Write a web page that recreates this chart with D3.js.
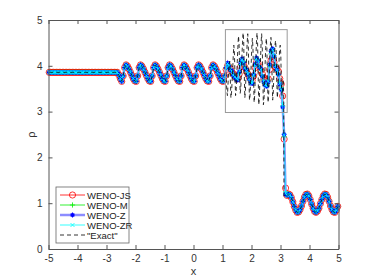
<!DOCTYPE html>
<html>
<head>
<meta charset="utf-8">
<script src="https://cdn.jsdelivr.net/npm/d3@7"></script>
<style>
body { margin: 0; background: #fff; }
text { font-family: "Liberation Sans", Arial, sans-serif; }
</style>
</head>
<body>
<div id="viz-container"></div>
<script>
// density on the cell grid, shared part left of the zoom box (x = -4.975 .. 1.075)
var rhoLeft = [
  3.857, 3.857, 3.857, 3.857, 3.857, 3.857, 3.857, 3.857, 3.857, 3.857,
  3.857, 3.857, 3.857, 3.857, 3.857, 3.857, 3.857, 3.857, 3.857, 3.857,
  3.857, 3.857, 3.857, 3.857, 3.857, 3.857, 3.857, 3.857, 3.857, 3.857,
  3.857, 3.857, 3.857, 3.857, 3.857, 3.857, 3.857, 3.857, 3.857, 3.857,
  3.857, 3.857, 3.857, 3.857, 3.857, 3.857, 3.857, 3.857,
  3.80, 3.72,
  3.66, 3.78, 3.96, 4.02, 3.99, 3.93, 3.86, 3.79, 3.72, 3.67,
  3.66, 3.78, 3.96, 4.02, 3.99, 3.93, 3.86, 3.79, 3.72, 3.67,
  3.66, 3.78, 3.96, 4.02, 3.99, 3.93, 3.86, 3.79, 3.72, 3.67,
  3.66, 3.78, 3.96, 4.02, 3.99, 3.93, 3.86, 3.79, 3.72, 3.67,
  3.66, 3.78, 3.96, 4.02, 3.99, 3.93, 3.86, 3.79, 3.72, 3.67,
  3.66, 3.78, 3.96, 4.02, 3.99, 3.93, 3.86, 3.79, 3.72, 3.67,
  3.66, 3.78, 3.96, 4.02, 3.99, 3.93, 3.86, 3.79, 3.72, 3.67,
  3.66, 3.78
];
// shared part right of the shock (x = 3.225 .. 4.975)
var rhoRight = [
  1.17, 1.20, 1.18, 1.12, 1.03, 0.93, 0.85, 0.80, 0.81, 0.86,
  0.94, 1.04, 1.13, 1.19, 1.20, 1.16, 1.08, 0.98, 0.89, 0.82,
  0.80, 0.83, 0.89, 0.99, 1.08, 1.16, 1.20, 1.19, 1.13, 1.04,
  0.94, 0.86, 0.81, 0.80, 0.85, 0.93
];
// per scheme, x = 1.125 .. 3.175
var boxJS = [
  3.92, 4.00, 3.98, 3.93, 3.87, 3.82, 3.77, 3.73, 3.72,
  3.82, 3.98, 4.06, 4.03, 3.96, 3.88, 3.82, 3.75, 3.70, 3.68,
  3.78, 3.96, 4.08, 4.06, 3.98, 3.90, 3.82, 3.74, 3.68, 3.65, 3.72,
  3.92, 4.12, 4.16, 4.08, 3.98, 3.93, 3.88, 3.72, 3.60,
  3.34, 2.40, 1.33
];
var boxM = [
  3.94, 4.04, 4.01, 3.93, 3.87, 3.81, 3.75, 3.71, 3.70,
  3.84, 4.03, 4.12, 4.09, 3.97, 3.89, 3.83, 3.73, 3.65, 3.63,
  3.79, 4.00, 4.14, 4.13, 3.99, 3.91, 3.79, 3.67, 3.59, 3.57, 3.67,
  3.98, 4.26, 4.33, 4.22, 4.02, 3.90, 3.80, 3.63, 3.52,
  3.12, 2.45, 1.25
];
var boxZ = [
  3.96, 4.06, 3.99, 3.91, 3.89, 3.79, 3.75, 3.70, 3.69,
  3.86, 4.06, 4.15, 4.07, 3.95, 3.91, 3.81, 3.71, 3.63, 3.61,
  3.81, 4.03, 4.17, 4.11, 3.97, 3.93, 3.77, 3.65, 3.57, 3.55, 3.65,
  4.02, 4.32, 4.37, 4.21, 3.99, 3.91, 3.81, 3.60, 3.48,
  3.10, 2.50, 1.20
];
var boxZR = [
  3.95, 4.05, 4.00, 3.92, 3.88, 3.80, 3.76, 3.72, 3.70,
  3.85, 4.05, 4.14, 4.08, 3.96, 3.90, 3.82, 3.72, 3.64, 3.62,
  3.80, 4.02, 4.16, 4.12, 3.98, 3.92, 3.78, 3.66, 3.58, 3.56, 3.66,
  4.00, 4.30, 4.36, 4.22, 4.00, 3.90, 3.82, 3.62, 3.50,
  3.15, 2.48, 1.22
];
// reference solution inside the box, x = 1.11 .. 3.11 step 0.02
var exactBox = [
  3.90, 3.70, 3.45, 3.35, 3.60, 3.85, 4.05, 4.10,
  3.70, 3.30, 3.40, 3.65, 3.90, 4.20, 4.45, 4.30,
  3.80, 3.35, 3.45, 3.75, 4.10, 4.40, 4.65, 4.50,
  3.90, 3.40, 3.50, 3.85, 4.20, 4.50, 4.72, 4.55,
  3.85, 3.30, 3.45, 3.80, 4.15, 4.50, 4.70, 4.45,
  3.80, 3.25, 3.35, 3.70, 4.05, 4.40, 4.60, 4.40,
  3.75, 3.20, 3.35, 3.75, 4.15, 4.50, 4.72, 4.50,
  3.80, 3.15, 3.30, 3.70, 4.10, 4.50, 4.70, 4.45,
  3.75, 3.15, 3.25, 3.65, 4.05, 4.40, 4.60, 4.40,
  3.70, 3.20, 3.35, 3.75, 4.15, 4.45, 4.62, 4.45,
  3.75, 3.25, 3.40, 3.80, 4.15, 4.45, 4.55, 4.35,
  3.70, 3.30, 3.45, 3.80, 4.10, 4.35, 4.45, 4.25,
  3.60, 3.35, 3.50, 3.70, 3.40
];
var exactShockX = 3.12, exactShockRho = 1.14;
var zoomBox = { x0: 1.1, x1: 3.23, y0: 2.98, y1: 4.79 };
var xTicks = [-5, -4, -3, -2, -1, 0, 1, 2, 3, 4, 5];
var yTicks = [0, 1, 2, 3, 4, 5];
var names = ['WENO-JS', 'WENO-M', 'WENO-Z', 'WENO-ZR', '"Exact"'];

var width = 374, height = 280;
var margin = { left: 48.5, right: 35.5, top: 20, bottom: 31 };

var xs = d3.range(200).map(function(i) { return -4.975 + 0.05 * i; });
var exactX = xs.slice(0, 122).concat(d3.range(1.11, 3.12, 0.02), [exactShockX], xs.slice(164));
var exactRho = rhoLeft.concat(exactBox, [exactShockRho], rhoRight);

var series = [
  { name: names[0], rho: rhoLeft.concat(boxJS, rhoRight), color: '#ff0000', lw: 0.8, marker: 'circle' },
  { name: names[1], rho: rhoLeft.concat(boxM, rhoRight), color: '#00ee00', lw: 0.8, marker: 'plus' },
  { name: names[2], rho: rhoLeft.concat(boxZ, rhoRight), color: '#0000ff', line: '#8c8cff', lw: 2.5, marker: 'star' },
  { name: names[3], rho: rhoLeft.concat(boxZR, rhoRight), color: '#00ffff', lw: 0.8, marker: 'times' }
];

var markers = {
  circle: d3.symbol(d3.symbolCircle, 30)(),
  plus: 'M-2.6,0H2.6M0,-2.6V2.6',
  times: 'M-2,-2L2,2M-2,2L2,-2',
  star: 'M-2.4,0H2.4M0,-2.4V2.4M-1.7,-1.7L1.7,1.7M-1.7,1.7L1.7,-1.7'
};

var x = d3.scaleLinear().domain([-5, 5]).range([margin.left, width - margin.right]);
var y = d3.scaleLinear().domain([0, 5]).range([height - margin.bottom, margin.top]);

var svg = d3.select('#viz-container').append('svg')
    .attr('width', width)
    .attr('height', height);

var plot = svg.append('g');

function drawMarker(g, type, color, px, py) {
  return g.append('path')
      .attr('d', markers[type])
      .attr('transform', 'translate(' + px + ',' + py + ')')
      .style('fill', 'none')
      .style('stroke', color)
      .style('stroke-width', type == 'star' ? 1.1 : 0.8);
}

series.forEach(function(s) {
  var line = d3.line()
      .x(function(d, i) { return x(xs[i]); })
      .y(function(d) { return y(d); });
  plot.append('path')
      .attr('d', line(s.rho))
      .style('fill', 'none')
      .style('stroke', s.line || s.color)
      .style('stroke-width', s.lw);
  var mg = plot.append('g');
  s.rho.forEach(function(d, i) {
    drawMarker(mg, s.marker, s.color, x(xs[i]), y(d));
  });
});

var exactLine = d3.line()
    .x(function(d, i) { return x(exactX[i]); })
    .y(function(d) { return y(d); });
plot.append('path')
    .attr('d', exactLine(exactRho))
    .style('fill', 'none')
    .style('stroke', '#000')
    .style('stroke-width', 0.8)
    .style('stroke-dasharray', '4,3');

// zoom box
svg.append('rect')
    .attr('x', x(zoomBox.x0))
    .attr('y', y(zoomBox.y1))
    .attr('width', x(zoomBox.x1) - x(zoomBox.x0))
    .attr('height', y(zoomBox.y0) - y(zoomBox.y1))
    .style('fill', 'none')
    .style('stroke', '#9a9a9a')
    .style('stroke-width', 1);

// axes, ticks pointing inward on all four sides
var axisColor = '#555';
var fmt = function(d) { return String(d); };
var axBottom = svg.append('g')
    .attr('transform', 'translate(0,' + y(0) + ')')
    .call(d3.axisBottom(x).tickValues(xTicks).tickSize(-4).tickPadding(6).tickSizeOuter(0).tickFormat(fmt));
var axTop = svg.append('g')
    .attr('transform', 'translate(0,' + y(5) + ')')
    .call(d3.axisTop(x).tickValues(xTicks).tickSize(-4).tickFormat('').tickSizeOuter(0));
var axLeft = svg.append('g')
    .attr('transform', 'translate(' + x(-5) + ',0)')
    .call(d3.axisLeft(y).tickValues(yTicks).tickSize(-4).tickPadding(6).tickSizeOuter(0).tickFormat(fmt));
var axRight = svg.append('g')
    .attr('transform', 'translate(' + x(5) + ',0)')
    .call(d3.axisRight(y).tickValues(yTicks).tickSize(-4).tickFormat('').tickSizeOuter(0));

[axBottom, axTop, axLeft, axRight].forEach(function(a) {
  a.selectAll('path, line').style('stroke', axisColor);
  a.selectAll('text')
      .style('font-family', '"Liberation Sans", Arial, sans-serif')
      .style('font-size', '10px')
      .style('fill', '#333');
});

svg.append('text')
    .attr('x', x(0))
    .attr('y', 275)
    .attr('text-anchor', 'middle')
    .style('font-size', '11px')
    .style('fill', '#333')
    .text('x');

svg.append('text')
    .attr('transform', 'translate(35,' + y(2.5) + ') rotate(-90)')
    .attr('text-anchor', 'middle')
    .style('font-size', '11px')
    .style('fill', '#333')
    .text('ρ');

// legend
var legend = svg.append('g');
legend.append('rect')
    .attr('x', 56)
    .attr('y', 187)
    .attr('width', 73)
    .attr('height', 56)
    .style('fill', '#fff')
    .style('stroke', '#666')
    .style('stroke-width', 0.8);

var entries = series.concat([{ name: names[4], color: '#000', lw: 0.8, dash: '4,3' }]);
entries.forEach(function(s, i) {
  var ly = 195 + i * 10;
  legend.append('line')
      .attr('x1', 60).attr('x2', 85)
      .attr('y1', ly).attr('y2', ly)
      .style('stroke', s.line || s.color)
      .style('stroke-width', s.lw)
      .style('stroke-dasharray', s.dash || null);
  if (s.marker) drawMarker(legend, s.marker, s.color, 72.5, ly);
  legend.append('text')
      .attr('x', 87)
      .attr('y', ly + 3.5)
      .style('font-size', '9.5px')
      .style('fill', '#222')
      .text(s.name);
});
</script>
</body>
</html>
